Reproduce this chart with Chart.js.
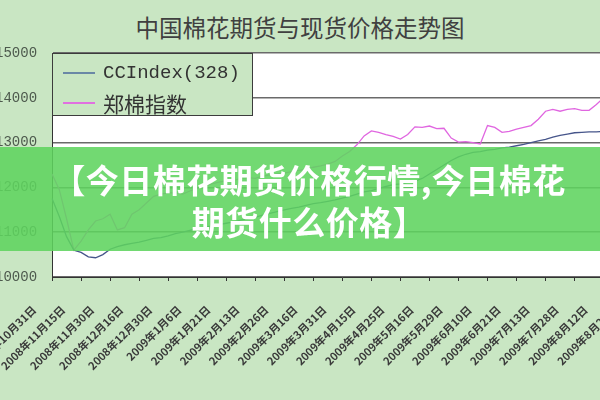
<!DOCTYPE html>
<html>
<head>
<meta charset="utf-8">
<script src="https://cdn.jsdelivr.net/npm/chart.js@4.4.0/dist/chart.umd.min.js"></script>
<style>
  body { margin: 0; width: 600px; height: 400px; overflow: hidden; position: relative;
         background: #c9e6c3; font-family: "Noto Sans CJK SC", sans-serif; }
  #title { position: absolute; top: 10px; left: 0; width: 600px; text-align: center;
           font-size: 23.5px; color: #404040; }
  #wrap { position: absolute; left: -30px; top: 0; width: 694px; height: 400px; }
  #legend { position: absolute; left: 52px; top: 53px; width: 199px; height: 61px;
            border: 1px solid #3c3c3c; background: #c9e6c3; }
  .item { position: absolute; left: 10px; height: 30px; display: flex; align-items: center; }
  .item span.line { display: inline-block; width: 32px; height: 2px; margin-right: 8px; }
  .item span.txt { color: #333; white-space: nowrap; }
  #banner { position: absolute; left: 0; top: 147px; width: 600px; height: 104px;
            background: rgba(95, 212, 95, 0.88); color: #fff; font-weight: bold;
            font-size: 33px; letter-spacing: 0.5px; line-height: 42px; text-align: center;
            padding: 11px 0 0 18px; box-sizing: border-box; }
</style>
</head>
<body>
<div id="title">中国棉花期货与现货价格走势图</div>
<div id="wrap"><canvas id="chart"></canvas></div>
<div id="legend"></div>
<div id="banner">【今日棉花期货价格行情,今日棉花<br>期货什么价格】</div>
<script>
// tick labels, one every 4 points
const tickLabels = [
  '2008年10月31日', '2008年11月15日', '2008年11月30日', '2008年12月16日', '2008年12月30日',
  '2009年1月6日', '2009年1月21日', '2009年2月13日', '2009年2月26日', '2009年3月16日',
  '2009年3月31日', '2009年4月15日', '2009年4月25日', '2009年5月16日', '2009年5月29日',
  '2009年6月10日', '2009年6月21日', '2009年7月13日', '2009年7月28日', '2009年8月12日',
  '2009年8月26日'
];

// CCIndex(328) spot index
const ccIndex = [
  11750, 11350, 10900, 10600, 10550, 10450, 10430, 10500, 10620, 10680,
  10720, 10750, 10780, 10820, 10860, 10880, 10920, 10970, 11000, 11040,
  11080, 11110, 11140, 11170, 11200, 11230, 11270, 11300, 11330, 11380,
  11420, 11460, 11500, 11530, 11560, 11600, 11640, 11660, 11690, 11720,
  11760, 11800, 11850, 11900, 11930, 11980, 12020, 12060, 12080, 12110,
  12140, 12200, 12300, 12400, 12500, 12600, 12680, 12740, 12780, 12800,
  12830, 12850, 12880, 12900, 12930, 12960, 13000, 13040, 13070, 13120,
  13160, 13190, 13220, 13230, 13240, 13240, 13250, 13260, 13260, 13270,
  13280
];

// Zhengzhou cotton futures index
const zhengmian = [
  12300, 11950, 11300, 10600, 10800, 11050, 11250, 11300, 11400, 11050,
  11100, 11400, 11500, 11650, 11800, 11850, 11880, 11880, 11850, 11920,
  11980, 12030, 12080, 12120, 12150, 12150, 12200, 12220, 12200, 12250,
  12280, 12300, 12320, 12350, 12380, 12400, 12450, 12480, 12520, 12580,
  12700, 12800, 12950, 13150, 13260, 13230, 13180, 13140, 13080, 13180,
  13350, 13340, 13370, 13310, 13320, 13100, 13010, 13020, 13000, 12970,
  13380, 13340, 13230, 13250, 13300, 13340, 13380, 13520, 13700, 13740,
  13700, 13740, 13760, 13720, 13720, 13850, 14000, 14050, 14100, 14080,
  14150
];

const plotBg = {
  id: 'plotBg',
  beforeDraw(chart) {
    const a = chart.chartArea, c = chart.ctx;
    c.save();
    c.fillStyle = '#ffffff';
    c.fillRect(a.left, a.top, a.right - a.left, a.bottom - a.top);
    c.restore();
  }
};

const ctx = document.getElementById('chart').getContext('2d');
const chart = new Chart(ctx, {
  type: 'line',
  data: {
    labels: ccIndex.map((v, i) => i),
    datasets: [
      { label: 'CCIndex(328)', data: ccIndex, borderColor: '#46558a', borderWidth: 1.3,
        pointRadius: 0, fill: false, tension: 0 },
      { label: '郑棉指数', data: zhengmian, borderColor: '#e066e0', borderWidth: 1.3,
        pointRadius: 0, fill: false, tension: 0 }
    ]
  },
  options: {
    responsive: true,
    maintainAspectRatio: false,
    animation: false,
    layout: { padding: { top: 53, left: 0, right: 0, bottom: 0 } },
    plugins: { legend: { display: false }, tooltip: { enabled: false } },
    scales: {
      x: {
        afterFit(scale) { scale.height = 123; },
        grid: { drawOnChartArea: false, drawTicks: true, tickLength: 4, color: '#333' },
        border: { color: '#333', width: 1 },
        ticks: {
          autoSkip: false, maxRotation: 45, minRotation: 45, labelOffset: -18, padding: 22,
          color: '#3a3a3a', font: { family: 'Noto Sans CJK SC', size: 11, weight: 'bold' },
          callback: (val, idx) => idx % 4 === 0 ? tickLabels[idx / 4] : null
        }
      },
      y: {
        min: 10000, max: 15000,
        afterFit(scale) { scale.width = 72; },
        grid: { color: '#6a6a6a', lineWidth: 1.5, drawTicks: false },
        border: { color: '#333', width: 1 },
        ticks: {
          stepSize: 1000, padding: 15, color: '#4d594d',
          font: { family: 'Liberation Mono', size: 14 },
          callback: (v) => String(v)
        }
      }
    }
  },
  plugins: [plotBg]
});

// legend box built from the datasets
const legend = document.getElementById('legend');
chart.data.datasets.forEach((ds, i) => {
  const item = document.createElement('div');
  item.className = 'item';
  item.style.top = (4 + i * 30) + 'px';
  const line = document.createElement('span');
  line.className = 'line';
  line.style.background = i === 0 ? '#6a88a6' : '#e070e0';
  const txt = document.createElement('span');
  txt.className = 'txt';
  txt.textContent = ds.label;
  txt.style.fontFamily = i === 0 ? 'Liberation Mono' : 'Noto Sans CJK SC';
  txt.style.fontSize = i === 0 ? '19px' : '21px';
  item.appendChild(line);
  item.appendChild(txt);
  legend.appendChild(item);
});
</script>
</body>
</html>
